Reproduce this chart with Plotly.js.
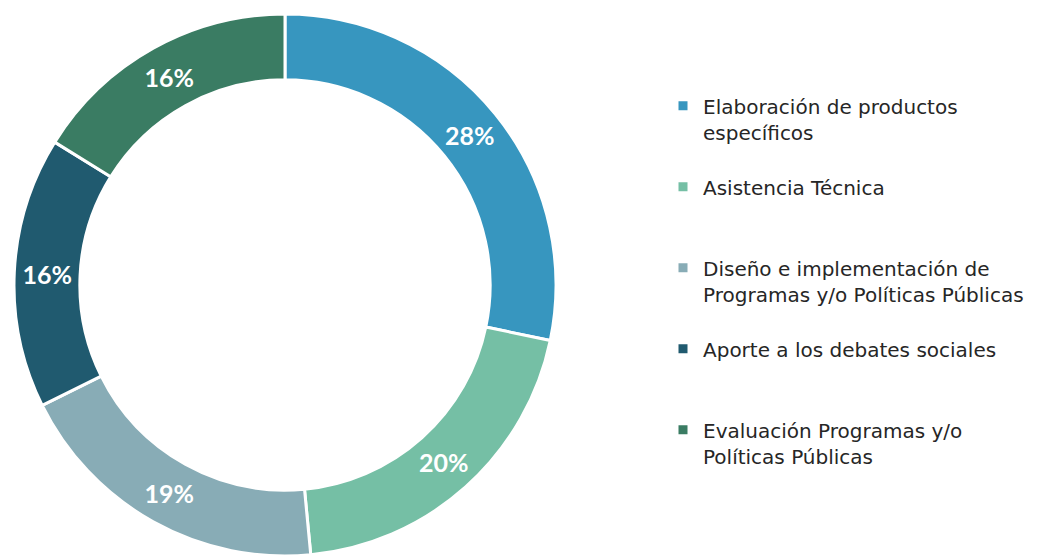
<!DOCTYPE html>
<html>
<head>
<meta charset="utf-8">
<script src="https://cdn.plot.ly/plotly-3.0.1.min.js"></script>
<style>
  html, body { margin: 0; padding: 0; background: #fff; }
  #chart { width: 1053px; height: 557px; }
</style>
</head>
<body>
<div id="chart"></div>
<script>
// categories and shares (percent)
const labels = [
    'Elaboración de productos<br>específicos<br> ',
    'Asistencia Técnica<br> <br> ',
    'Diseño e implementación de<br>Programas y/o Políticas Públicas<br> ',
    'Aporte a los debates sociales<br> <br> ',
    'Evaluación Programas y/o<br>Políticas Públicas'
];
const values = [28, 20, 19, 16, 16];
const colors = ['#3796BF', '#75BFA5', '#88ACB6', '#205A6F', '#3A7C63'];

const W = 1053, H = 557;
const cx = 285, cy = 285, r = 271;

const trace = {
    type: 'pie',
    labels: labels,
    values: values,
    sort: false,
    direction: 'clockwise',
    rotation: 0,
    hole: 0.757,
    marker: { colors: colors, line: { color: '#ffffff', width: 3 } },
    texttemplate: '%{value}%',
    textposition: 'inside',
    insidetextorientation: 'horizontal',
    textfont: { family: 'Lato', size: 25, color: '#ffffff', weight: 'bold' },
    hoverinfo: 'label+percent',
    domain: {
        x: [(cx - r) / W, (cx + r) / W],
        y: [(H - cy - r) / H, (H - cy + r) / H]
    }
};

const layout = {
    width: W,
    height: H,
    margin: { l: 0, r: 0, t: 0, b: 0 },
    paper_bgcolor: '#ffffff',
    showlegend: true,
    legend: {
        x: 663 / W,
        y: 0.845,
        xanchor: 'left',
        yanchor: 'top',
        valign: 'top',
        font: { family: 'DejaVu Sans', size: 20, color: '#262626' },
        bgcolor: 'rgba(0,0,0,0)'
    }
};

Plotly.newPlot('chart', [trace], layout, { displayModeBar: false });
</script>
</body>
</html>
